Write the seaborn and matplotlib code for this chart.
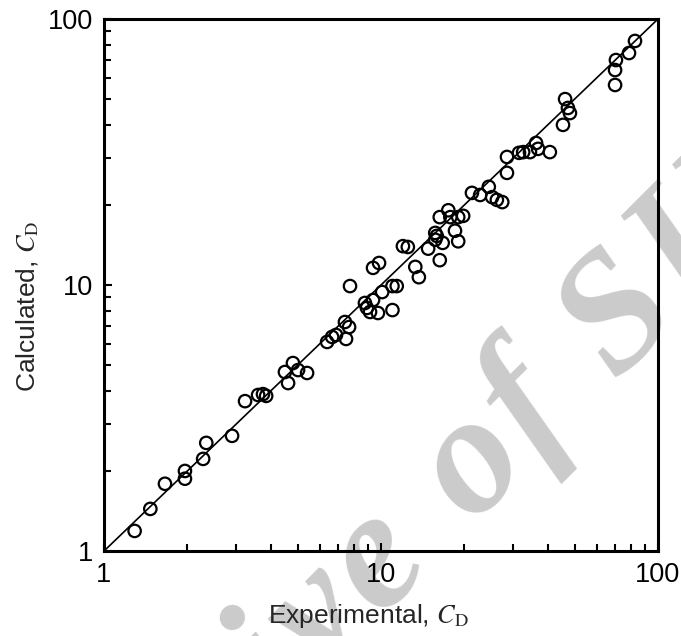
import math
import matplotlib
matplotlib.use("Agg")
import matplotlib.pyplot as plt
import matplotlib.ticker as mticker
from matplotlib.font_manager import FontProperties
from matplotlib.textpath import TextToPath
import seaborn as sns
import pandas as pd

# Experimental vs calculated drag coefficient
experimental = [1.29, 1.47, 1.66, 1.96, 1.96, 2.28, 2.34, 2.90, 3.23, 3.60,
                3.75, 3.85, 4.50, 4.81, 5.02, 5.41, 4.62, 6.39, 6.66, 6.88,
                7.48, 7.67, 7.41, 7.73, 8.75, 8.90, 9.13, 9.75, 9.36, 10.1,
                11.0, 11.0, 11.4, 9.36, 9.84, 12.0, 12.5, 13.3, 13.7, 14.8,
                15.7, 15.9, 16.7, 16.3, 16.3, 17.5, 17.8, 19.0, 19.8, 18.5,
                19.0, 15.7, 21.3, 22.8, 24.5, 25.2, 26.2, 27.4, 28.5, 28.5,
                31.5, 32.6, 34.5, 36.3, 36.9, 40.7, 46.2, 47.3, 48.1, 45.4,
                70.5, 70.0, 70.0, 78.6, 82.6]
calculated = [1.19, 1.44, 1.79, 2.00, 1.87, 2.22, 2.55, 2.71, 3.66, 3.86,
              3.89, 3.83, 4.71, 5.09, 4.79, 4.67, 4.28, 6.11, 6.38, 6.49,
              6.27, 6.95, 7.26, 9.91, 8.56, 8.20, 7.92, 7.85, 8.78, 9.41,
              8.05, 9.91, 9.91, 11.6, 12.1, 14.0, 13.9, 11.7, 10.7, 13.7,
              14.8, 15.3, 14.4, 12.4, 18.0, 19.1, 18.0, 18.0, 18.2, 16.0,
              14.6, 15.7, 22.2, 21.8, 23.4, 21.4, 20.9, 20.5, 30.3, 26.4,
              31.4, 31.6, 31.6, 34.2, 32.5, 31.6, 50.0, 46.3, 44.3, 40.0,
              70.1, 64.3, 56.5, 74.5, 82.7]

axis_limits = [1, 100]
tick_values = [1, 10, 100]
tick_labels = ["1", "10", "100"]
watermark = "Archive of SID"

df = pd.DataFrame({"Experimental": experimental, "Calculated": calculated})
parity = pd.DataFrame({"x": axis_limits, "y": axis_limits})

sns.set_theme(style="white")
plt.rcParams["font.family"] = ["Liberation Sans", "DejaVu Sans"]
plt.rcParams["mathtext.fontset"] = "stix"

W, H, DPI = 681, 636, 100
fig = plt.figure(figsize=(W / DPI, H / DPI), dpi=DPI)
ax = fig.add_axes([0.1527, 0.1336, 0.8135, 0.8365])
ax.patch.set_alpha(0)


def draw_watermark(text, size_pt, angle_deg, tracking_em, ref_char, ref_xy):
    """Letter-spaced diagonal watermark; ref_xy is the pixel centre (from the
    top-left corner) wanted for the glyph at index ref_char."""
    prop = FontProperties(family="Liberation Serif", style="italic",
                          weight="bold", size=size_pt)
    t2p = TextToPath()
    px_per_pt = DPI / 72.0
    em = size_pt * px_per_pt
    w_xx = t2p.get_text_width_height_descent("xx", prop, ismath=False)[0]
    advances = []
    for ch in text:
        w_pair = t2p.get_text_width_height_descent("x" + ch + "x", prop,
                                                   ismath=False)[0]
        advances.append((w_pair - w_xx) * px_per_pt + tracking_em * em)
    a = math.radians(angle_deg)
    ux, uy = math.cos(a), math.sin(a)          # along baseline (y up)
    nx, ny = -math.sin(a), math.cos(a)         # towards glyph tops
    offsets = [sum(advances[:i]) for i in range(len(text))]
    s_ref = offsets[ref_char] + (advances[ref_char] - tracking_em * em) / 2
    h_ref = 0.23 * em
    tx, ty = ref_xy[0], H - ref_xy[1]
    ox = tx - s_ref * ux - h_ref * nx
    oy = ty - s_ref * uy - h_ref * ny
    for ch, s in zip(text, offsets):
        if ch == " ":
            continue
        fig.text((ox + s * ux) / W, (oy + s * uy) / H, ch,
                 fontproperties=prop, color="#cbcbcb", rotation=angle_deg,
                 rotation_mode="anchor", ha="left", va="baseline", zorder=-5)


draw_watermark(watermark, 122, 45, 0.04, watermark.index("o"), (474, 466))

sns.lineplot(data=parity, x="x", y="y", ax=ax, color="black", linewidth=1.2,
             zorder=2)
sns.scatterplot(data=df, x="Experimental", y="Calculated", ax=ax, s=80,
                facecolor="none", edgecolor="black", linewidth=1.6, zorder=3)

ax.set_xscale("log")
ax.set_yscale("log")
ax.set_xlim(axis_limits)
ax.set_ylim(axis_limits)
ax.set_xticks(tick_values)
ax.set_xticklabels(tick_labels)
ax.set_yticks(tick_values)
ax.set_yticklabels(tick_labels)
ax.xaxis.set_minor_locator(mticker.LogLocator(base=10, subs=range(2, 10)))
ax.yaxis.set_minor_locator(mticker.LogLocator(base=10, subs=range(2, 10)))
ax.xaxis.set_minor_formatter(mticker.NullFormatter())
ax.yaxis.set_minor_formatter(mticker.NullFormatter())

ax.tick_params(which="both", direction="in", top=False, right=False,
               left=True, bottom=True, width=1.5, colors="black")
ax.tick_params(which="major", length=5.5, labelsize=19.5, pad=8)
ax.tick_params(which="minor", length=5)

for spine in ax.spines.values():
    spine.set_visible(True)
    spine.set_color("black")
    spine.set_linewidth(2.2)

ax.set_xlabel(r"Experimental, $\mathit{C}_{\mathrm{D}}$", fontsize=19,
              va="center")
ax.set_ylabel(r"Calculated, $\mathit{C}_{\mathrm{D}}$", fontsize=19,
              va="center")
ax.xaxis.set_label_coords(0.477, -0.122)
ax.yaxis.set_label_coords(-0.137, 0.46)

fig.savefig("out.png", dpi=DPI)
